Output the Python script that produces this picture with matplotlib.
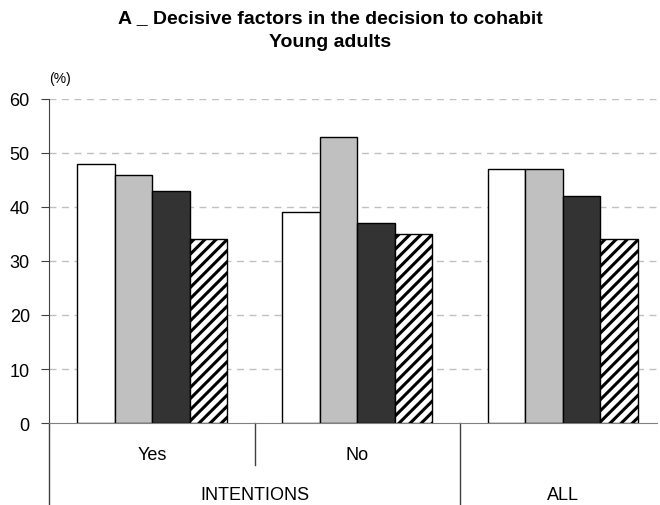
import numpy as np
import matplotlib.pyplot as plt

plt.rcParams['font.family'] = ['Liberation Sans', 'DejaVu Sans']
plt.rcParams['hatch.linewidth'] = 2.2

groups = ['Yes', 'No', 'ALL']
series_a = [48, 39, 47]
series_b = [46, 53, 47]
series_c = [43, 37, 42]
series_d = [34, 35, 34]
yticks = [0, 10, 20, 30, 40, 50, 60]

fig = plt.figure(figsize=(6.6, 5.06), dpi=100)
ax = fig.add_axes([0.0747, 0.162, 0.9213, 0.6405])

x = np.arange(len(groups))
w = 0.1825
fills = ['white', '#c0c0c0', '#333333', 'white']
hatches = [None, None, None, '///']
for k, vals in enumerate([series_a, series_b, series_c, series_d]):
    ax.bar(x + (k - 1.5) * w, vals, w, color=fills[k], hatch=hatches[k],
           edgecolor='black', linewidth=1.0, zorder=3)

ax.set_xlim(-0.5, 2.46)
ax.set_ylim(0, 60)
ax.set_yticks(yticks)
ax.tick_params(axis='y', labelsize=13, length=6, direction='out', pad=8, color='#404040')
ax.set_xticks([])
for y in yticks[1:]:
    ax.axhline(y, color='#c0c0c0', linestyle=(0, (5, 4)), linewidth=1, zorder=1)

for s in ['top', 'right']:
    ax.spines[s].set_visible(False)
ax.spines['bottom'].set_color('#808080')
ax.spines['left'].set_color('#404040')

# category separators below the axis
trans = ax.get_xaxis_transform()
ax.plot([-0.5, -0.5], [0, -0.26], color='#404040', lw=1, transform=trans, clip_on=False)
ax.plot([0.5, 0.5], [0, -0.13], color='#404040', lw=1, transform=trans, clip_on=False)
ax.plot([1.5, 1.5], [0, -0.26], color='#404040', lw=1, transform=trans, clip_on=False)

for xi, g in zip(x[:2], groups[:2]):
    ax.text(xi, -0.111, g, transform=trans, ha='center', va='baseline', fontsize=13)
ax.text(0.5, -0.2346, 'INTENTIONS', transform=trans, ha='center', va='baseline', fontsize=13)
ax.text(2, -0.2346, 'ALL', transform=trans, ha='center', va='baseline', fontsize=13)

ax.text(-0.5, 1.065, '(%)', transform=trans, ha='left', va='center', fontsize=10)

fig.text(0.5, 0.9545, 'A _ Decisive factors in the decision to cohabit', ha='center', va='baseline',
         fontsize=14, fontweight='bold')
fig.text(0.5, 0.9071, 'Young adults', ha='center', va='baseline', fontsize=14, fontweight='bold')

fig.savefig('out.png', dpi=100)
